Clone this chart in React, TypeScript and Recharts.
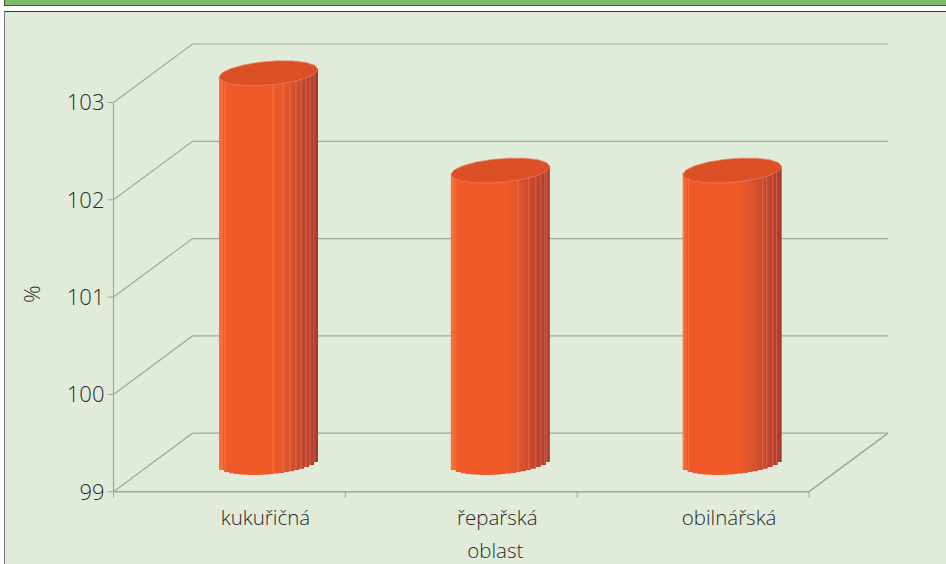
import { Bar, BarChart, CartesianGrid, XAxis, YAxis } from 'recharts'

const categories = ['kukuřičná', 'řepařská', 'obilnářská']
const values = [103, 102, 102]
const yTicks = [99, 100, 101, 102, 103]

const chartData = categories.map((name, i) => ({ name, value: values[i] }))

const LINE = '#A0A8A4'
const TEXT = '#2B2B2B'
const FONT = '"Open Sans", "Noto Sans", sans-serif'

// fake 3D: how far the back wall sits from the front plane
const DEPTH_X = 79
const DEPTH_Y = -58.5
const PLOT_LEFT = 113.5
const PLOT_WIDTH = 695.5
const FLOOR_Y = 491.7

// light facet seams on each cylinder, px from its left edge
const SEAMS = [
  [3, 6, 54, 64, 71, 77, 82, 87, 91, 95],
  [2, 5, 67, 78, 85, 90, 94, 96],
  [1, 6, 80, 84, 90, 94],
]

const SLOPE = -0.08
const TOP_RY = 11.9

function Cylinder(props: any) {
  const { x, y, width, height, index } = props
  const a = width / 2
  const cx = x + a + DEPTH_X / 2
  const top = y + DEPTH_Y / 2
  const bottom = y + height + DEPTH_Y / 2
  const left = cx - a
  const right = cx + a

  const edge = (px: number, base: number) => {
    const u = (px - cx) / a
    return base + SLOPE * (px - cx) + TOP_RY * Math.sqrt(Math.max(0, 1 - u * u))
  }

  // stepped lower edge, the facets show up as small jags
  let side = `M${left},${top + SLOPE * -a}`
  for (let px = left; px < right; px += 5) {
    const next = Math.min(px + 5, right)
    const yy = edge((px + next) / 2, bottom)
    side += ` L${px},${yy} L${next},${yy}`
  }
  side += ` L${right},${top + SLOPE * a} Z`

  const lid: string[] = []
  for (let t = 0; t < 360; t += 20) {
    const r = (t * Math.PI) / 180
    const c = a * Math.cos(r)
    lid.push(`${cx + c},${top + SLOPE * c + TOP_RY * Math.sin(r)}`)
  }

  return (
    <g>
      <path d={side} fill="url(#cylSide)" />
      {SEAMS[index].map((s) => {
        const px = left + s
        return (
          <line
            key={s}
            x1={px}
            x2={px}
            y1={edge(px, top)}
            y2={edge(px, bottom) - 1}
            stroke="#F59A78"
            strokeOpacity={0.4}
            strokeWidth={1}
          />
        )
      })}
      <polygon points={lid.join(' ')} fill="#DC5028" stroke="#E8835F" strokeWidth={0.7} />
    </g>
  )
}

function WallLine(props: any) {
  const { x1, x2, y1 } = props
  const backY = y1 + DEPTH_Y
  const isFloor = y1 > 480
  return (
    <g fill="none" stroke={LINE} strokeWidth={1.2}>
      <path d={`M${x1},${y1} L${x1 + DEPTH_X},${backY} L${x2 + DEPTH_X},${backY}`} />
      {isFloor && <path d={`M${x1},${y1} L${x2},${y1} L${x2 + DEPTH_X},${backY}`} strokeWidth={1.6} />}
    </g>
  )
}

function CategoryTick(props: any) {
  const { x, y, payload, index } = props
  const band = PLOT_WIDTH / categories.length
  const rightEdge = PLOT_LEFT + band * (index + 1)
  return (
    <g>
      {index === 0 && <line x1={PLOT_LEFT} x2={PLOT_LEFT} y1={FLOOR_Y} y2={FLOOR_Y + 6} stroke={LINE} />}
      <line x1={rightEdge} x2={rightEdge} y1={FLOOR_Y} y2={FLOOR_Y + 6} stroke={LINE} />
      <text x={x + 36} y={y + 25} textAnchor="middle" fontSize={20.5} fontWeight={300} fill={TEXT} fontFamily={FONT}>
        {payload.value}
      </text>
    </g>
  )
}

export default function App() {
  return (
    <div style={{ position: 'absolute', left: 0, top: 0, width: 946, height: 564, overflow: 'hidden', background: '#fff' }}>
      <div
        style={{
          position: 'absolute',
          left: 4,
          top: 0,
          width: 942,
          height: 5,
          background: '#7FBB6C',
          borderBottom: '1px solid #3F5A3C',
          borderLeft: '1px solid #3F5A3C',
          boxSizing: 'content-box',
        }}
      />
      <div
        style={{
          position: 'absolute',
          left: 4,
          top: 11,
          width: 942,
          height: 553,
          boxSizing: 'border-box',
          background: '#E0EBD9',
          borderTop: '1px solid #333',
          borderLeft: '1px solid #777',
        }}
      />
      <div style={{ position: 'absolute', left: 0, top: 0 }}>
        <BarChart
          width={946}
          height={564}
          data={chartData}
          margin={{ top: 102.5, right: 137, bottom: 12.3, left: 53.5 }}
        >
          <defs>
            <linearGradient id="cylSide" x1="0" y1="0" x2="1" y2="0">
              <stop offset="0%" stopColor="#F5733F" />
              <stop offset="5%" stopColor="#F05A28" />
              <stop offset="55%" stopColor="#F05A28" />
              <stop offset="70%" stopColor="#DC542A" />
              <stop offset="86%" stopColor="#C4432E" />
              <stop offset="100%" stopColor="#A93A2B" />
            </linearGradient>
          </defs>
          <CartesianGrid vertical={false} horizontal={(p: any) => <WallLine key={p.index} {...p} />} />
          <XAxis
            dataKey="name"
            height={60}
            interval={0}
            axisLine={false}
            tickLine={false}
            tick={<CategoryTick />}
            label={{ value: 'oblast', position: 'insideBottom', offset: 0, dx: 34, dy: 6, fontSize: 20.5, fontWeight: 300, fill: TEXT, fontFamily: FONT }}
          />
          <YAxis
            domain={[99, 103]}
            ticks={yTicks}
            width={60}
            interval={0}
            tickSize={6}
            tickMargin={3}
            tick={{ fontSize: 22, fontWeight: 300, fill: TEXT, fontFamily: FONT }}
            axisLine={{ stroke: LINE, strokeWidth: 1.2 }}
            tickLine={{ stroke: LINE }}
            label={{ value: '%', angle: -90, position: 'insideLeft', dx: -26, dy: 6, fontSize: 22, fontWeight: 300, fill: TEXT, fontFamily: FONT }}
          />
          <Bar dataKey="value" barSize={99} shape={(p: any) => <Cylinder {...p} />} isAnimationActive={false} />
        </BarChart>
      </div>
    </div>
  )
}
